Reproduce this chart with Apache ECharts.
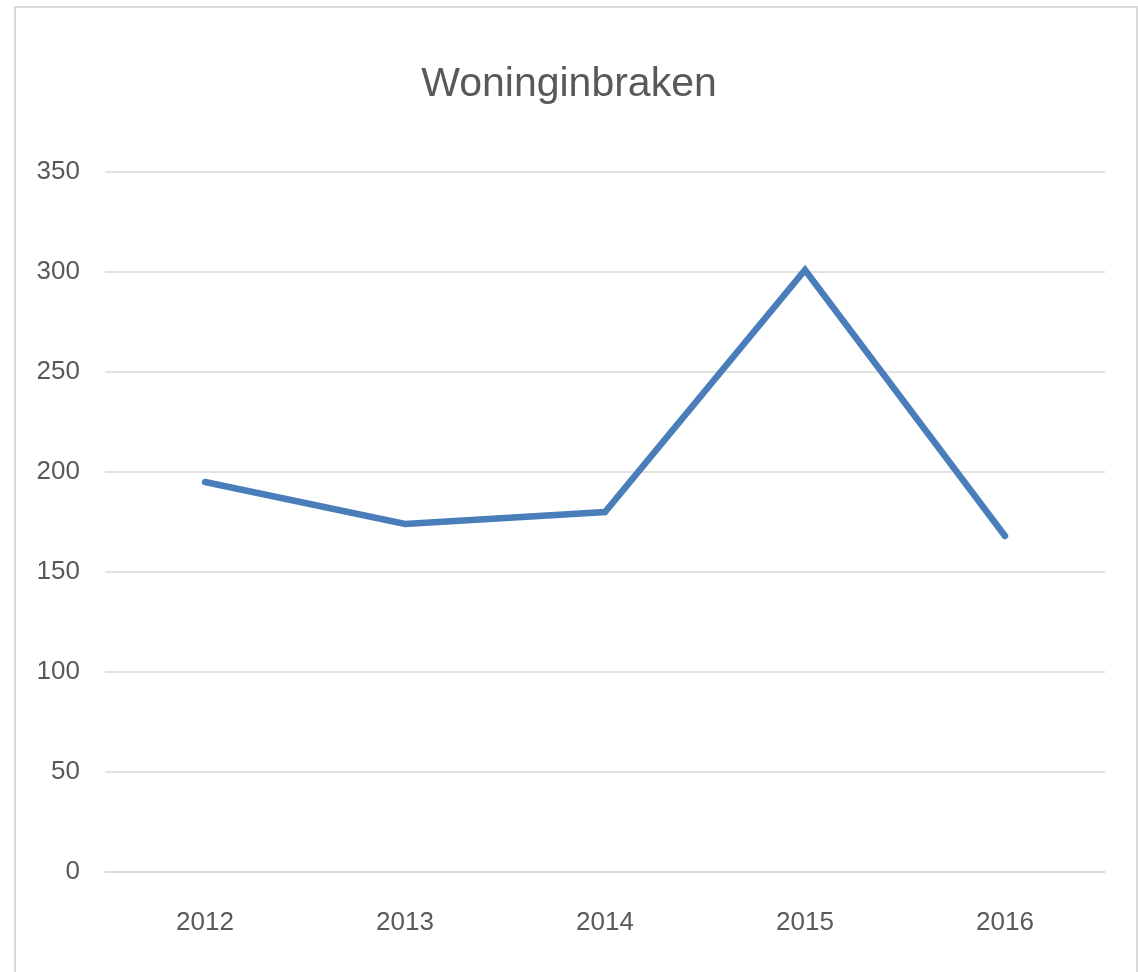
<!DOCTYPE html>
<html>
<head>
<meta charset="utf-8">
<title>Woninginbraken</title>
<script src="https://cdn.jsdelivr.net/npm/echarts@6/dist/echarts.min.js"></script>
<style>
  html, body { margin: 0; padding: 0; background: #fff; overflow: hidden; }
  #chart { width: 1138px; height: 972px; }
</style>
</head>
<body>
<div id="chart"></div>
<script>
var years  = ['2012', '2013', '2014', '2015', '2016'],
    braken = [195, 174, 180, 301, 168];

var yTicks = { min: 0, max: 350, step: 50 };

var font = '"Liberation Sans", Arial, sans-serif';

var chart = echarts.init(document.getElementById('chart'));

var option = {
  animation: false,
  backgroundColor: '#fff',
  title: {
    text: 'Woninginbraken',
    left: 'center',
    top: 59,
    textStyle: {
      fontFamily: font,
      fontSize: 41,
      fontWeight: 'normal',
      color: '#595959'
    }
  },
  graphic: [{
    type: 'rect',
    shape: { x: 15, y: 7, width: 1122, height: 1000 },
    style: { fill: 'none', stroke: '#d9d9d9', lineWidth: 2 }
  }],
  grid: { left: 105, right: 33, top: 172, bottom: 100 },
  xAxis: {
    type: 'category',
    data: years,
    boundaryGap: true,
    axisLine: { lineStyle: { color: '#d9d9d9', width: 1.5 } },
    axisTick: { show: false },
    axisLabel: {
      margin: 38,
      fontFamily: font,
      fontSize: 26,
      color: '#595959'
    }
  },
  yAxis: {
    type: 'value',
    min: yTicks.min,
    max: yTicks.max,
    interval: yTicks.step,
    axisLine: { show: false },
    axisTick: { show: false },
    splitLine: { lineStyle: { color: '#d9d9d9', width: 1.5 } },
    axisLabel: {
      margin: 25,
      fontFamily: font,
      fontSize: 26,
      color: '#595959'
    }
  },
  series: [{
    name: 'Woninginbraken',
    type: 'line',
    data: braken,
    symbol: 'none',
    lineStyle: { color: '#4a7ebb', width: 6.5, cap: 'round', join: 'miter' }
  }]
};

chart.setOption(option);
</script>
</body>
</html>
